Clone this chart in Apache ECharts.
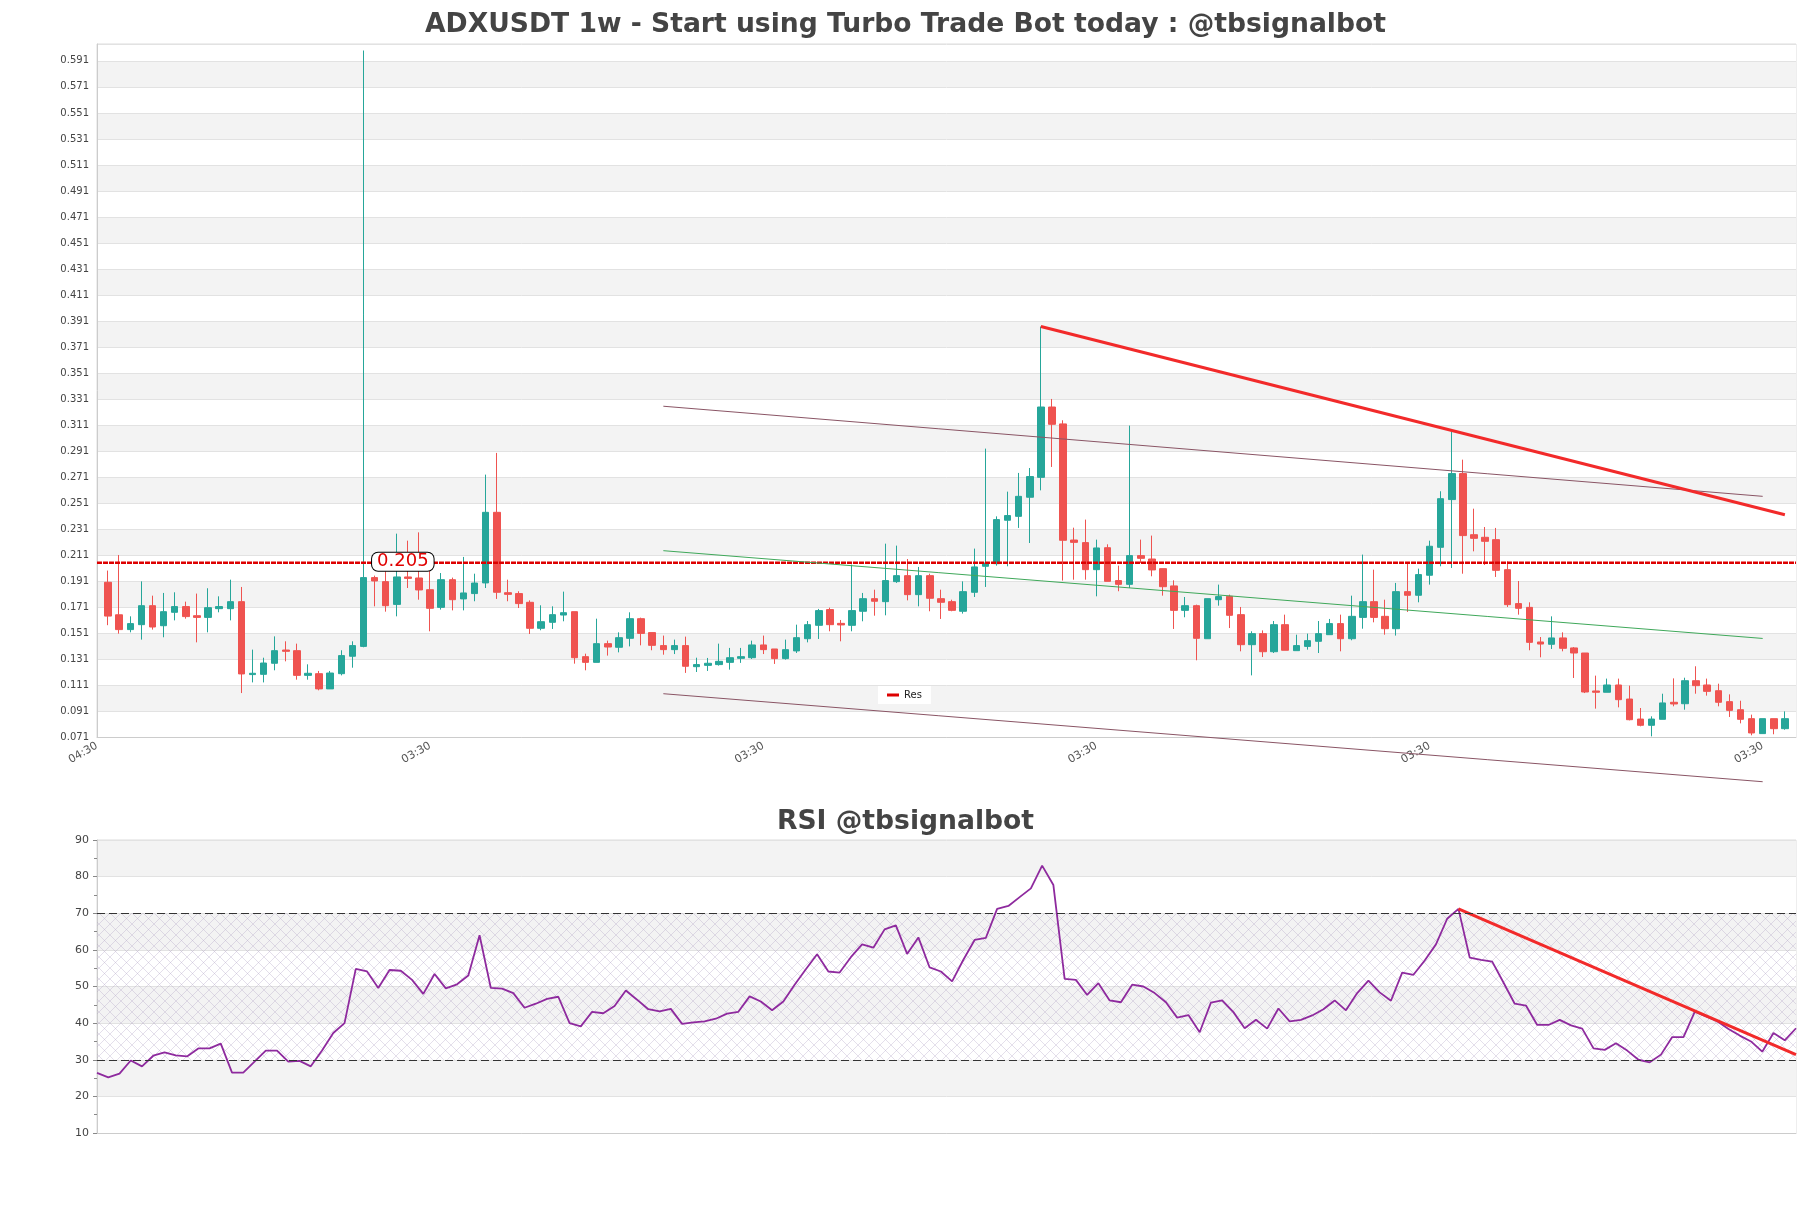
<!DOCTYPE html>
<html>
<head>
<meta charset="utf-8">
<script src="https://cdn.jsdelivr.net/npm/echarts@6/dist/echarts.min.js"></script>
<style>
html,body{margin:0;padding:0;background:#fff;}
#chart{width:1811px;height:1208px;}
</style>
</head>
<body>
<div id="chart"></div>
<script>
// ---- DATA ----
const opens = [0.190,0.165,0.1536,0.1574,0.172,0.1566,0.1669,0.1713,0.1643,0.163,
0.1697,0.1697,0.1751,0.119,0.1192,0.1277,0.1379,0.1374,0.1184,0.1197,
0.108,0.1197,0.1331,0.1407,0.1936,0.1905,0.173,0.1941,0.1933,0.1843,
0.1707,0.192,0.1772,0.1813,0.1895,0.2438,0.182,0.1813,0.1746,0.1546,
0.1592,0.1648,0.1674,0.1328,0.1284,0.1428,0.140,0.1469,0.162,0.1513,
0.1413,0.1382,0.1413,0.1251,0.1261,0.1267,0.1284,0.1315,0.132,0.1418,
0.1387,0.1313,0.1372,0.1466,0.1569,0.169,0.1584,0.1569,0.1677,0.1774,
0.1751,0.1905,0.1951,0.1805,0.1951,0.1774,0.1751,0.1677,0.1823,0.2023,
0.2043,0.2377,0.2407,0.2554,0.2707,0.3248,0.3118,0.2225,0.2205,0.1997,
0.2166,0.1913,0.1884,0.2105,0.2079,0.2005,0.1872,0.1684,0.172,0.1466,
0.1766,0.1792,0.1651,0.142,0.1505,0.1366,0.1574,0.1374,0.1407,0.1446,
0.1497,0.1582,0.1466,0.163,0.1751,0.1638,0.1543,0.1828,0.180,0.1954,
0.2169,0.2536,0.2736,0.2266,0.2246,0.2228,0.1997,0.1736,0.1707,0.1441,
0.1423,0.1472,0.1395,0.1356,0.1064,0.1054,0.111,0.1002,0.0848,0.080,
0.0846,0.0977,0.0966,0.1143,0.111,0.1066,0.0982,0.092,0.0851,0.0736,
0.0851,0.0774];
const closes = [0.164,0.1536,0.1582,0.172,0.1556,0.1674,0.1713,0.1636,0.163,0.1705,
0.1713,0.1751,0.1195,0.120,0.1279,0.1374,0.1369,0.1184,0.120,0.108,
0.1202,0.1336,0.1413,0.1936,0.191,0.172,0.1941,0.193,0.1841,0.170,
0.192,0.1766,0.1818,0.1894,0.2438,0.1823,0.1807,0.1736,0.1546,0.1597,
0.1651,0.1666,0.132,0.1284,0.1428,0.1402,0.1474,0.162,0.1507,0.1415,
0.1382,0.1413,0.1254,0.1267,0.1277,0.1292,0.132,0.1328,0.1418,0.1382,
0.1313,0.1382,0.1474,0.1574,0.1682,0.1574,0.1572,0.1682,0.1774,0.1754,
0.1913,0.1951,0.1805,0.1951,0.1777,0.1746,0.1684,0.1828,0.2018,0.2048,
0.2382,0.2413,0.2561,0.2713,0.3248,0.3115,0.2223,0.2207,0.1997,0.2164,
0.1907,0.1884,0.2105,0.2084,0.1995,0.1866,0.1684,0.172,0.1469,0.1774,
0.179,0.1646,0.142,0.1505,0.1366,0.1574,0.1377,0.1413,0.1451,0.1505,
0.1582,0.1466,0.1638,0.1751,0.163,0.1543,0.1828,0.180,0.1959,0.2177,
0.2543,0.2736,0.2259,0.2238,0.2215,0.1992,0.1728,0.170,0.1438,0.1425,
0.1472,0.1392,0.1356,0.1056,0.1054,0.111,0.0997,0.0843,0.080,0.0848,
0.0972,0.0964,0.1143,0.1105,0.1061,0.0977,0.0915,0.0846,0.0741,0.0851,
0.0774,0.0851];
const highs = [0.199,0.211,0.1638,0.1907,0.1797,0.1818,0.1823,0.1751,0.1813,0.1854,
0.1792,0.192,0.1864,0.1382,0.132,0.1484,0.1446,0.1428,0.1269,0.1218,
0.1218,0.1377,0.1446,0.599,0.1951,0.1984,0.2274,0.222,0.2284,0.2048,
0.1971,0.1936,0.2095,0.1966,0.2728,0.2895,0.192,0.1831,0.1761,0.1723,
0.1715,0.1828,0.1674,0.1351,0.162,0.1451,0.1515,0.1669,0.1628,0.1513,
0.149,0.1459,0.1482,0.132,0.1318,0.1428,0.1395,0.1395,0.1451,0.149,
0.1387,0.1459,0.1574,0.1602,0.1695,0.1705,0.161,0.2036,0.1818,0.1843,
0.2197,0.2182,0.2079,0.2018,0.1966,0.1843,0.1766,0.1907,0.2159,0.2928,
0.2407,0.2597,0.2741,0.2779,0.3867,0.331,0.3146,0.232,0.2382,0.2228,
0.2192,0.2028,0.3105,0.2228,0.2259,0.2005,0.1915,0.1787,0.1728,0.1774,
0.1882,0.1805,0.171,0.1523,0.153,0.1602,0.1651,0.1497,0.1505,0.1602,
0.1618,0.1651,0.1797,0.2113,0.1997,0.1766,0.1895,0.2048,0.2005,0.222,
0.260,0.3061,0.2843,0.2466,0.2325,0.2318,0.2061,0.191,0.1746,0.1479,
0.1638,0.1515,0.1402,0.1356,0.1182,0.1159,0.1159,0.1105,0.0933,0.0869,
0.1043,0.1161,0.1166,0.1254,0.1159,0.112,0.1038,0.0989,0.0882,0.0851,
0.0851,0.0907];
const lows = [0.157,0.1505,0.1515,0.1459,0.1536,0.1477,0.1607,0.162,0.1438,0.1515,
0.1669,0.1607,0.1048,0.113,0.113,0.1223,0.1292,0.1151,0.1151,0.1069,
0.1092,0.1184,0.1243,0.140,0.1715,0.1674,0.1638,0.1856,0.1766,0.1523,
0.169,0.1684,0.1684,0.1754,0.1856,0.1772,0.1754,0.1702,0.1502,0.1531,
0.1541,0.160,0.1274,0.1223,0.1284,0.1336,0.1361,0.1407,0.1415,0.1377,
0.1343,0.1348,0.1203,0.121,0.1218,0.1259,0.1228,0.128,0.131,0.1348,
0.1272,0.1305,0.1356,0.1438,0.1464,0.1523,0.1446,0.1523,0.160,0.1643,
0.1646,0.1895,0.1761,0.1715,0.1677,0.1618,0.1677,0.1659,0.1787,0.1864,
0.2028,0.2023,0.2318,0.2202,0.2607,0.2787,0.1913,0.192,0.192,0.1792,
0.1907,0.1831,0.1856,0.2048,0.1946,0.1797,0.1541,0.1631,0.130,0.1466,
0.172,0.1548,0.1369,0.1184,0.1325,0.1356,0.1377,0.1374,0.1382,0.1356,
0.1497,0.1369,0.1454,0.1543,0.1592,0.1497,0.149,0.1672,0.1746,0.1882,
0.2023,0.201,0.1966,0.2138,0.2033,0.1941,0.171,0.1651,0.1377,0.1323,
0.1387,0.1369,0.1164,0.1048,0.0928,0.1054,0.0938,0.0838,0.0792,0.0715,
0.0846,0.0946,0.092,0.1043,0.1028,0.0946,0.0864,0.0815,0.0723,0.0736,
0.0731,0.0766];
const rsi = [26.4,25.2,26.2,29.8,28.2,31.1,32.0,31.2,30.9,33.1,
33.1,34.4,26.5,26.5,29.5,32.5,32.5,29.5,29.7,28.2,
32.5,37.3,40.0,54.8,54.1,49.6,54.5,54.3,51.8,48.0,
53.4,49.5,50.6,53.0,64.0,49.6,49.4,48.2,44.2,45.3,
46.6,47.2,40.0,39.1,43.1,42.7,44.7,48.9,46.4,43.8,
43.2,43.9,39.8,40.2,40.5,41.2,42.6,43.1,47.3,45.9,
43.5,45.9,50.5,54.7,58.8,54.1,53.8,58.0,61.5,60.6,
65.6,66.7,58.9,63.4,55.2,54.1,51.4,57.3,62.7,63.3,
71.2,72.0,74.4,76.8,83.0,77.7,52.1,51.8,47.7,50.9,
46.2,45.7,50.5,50.0,48.2,45.7,41.5,42.2,37.5,45.6,
46.2,43.0,38.6,40.9,38.5,44.0,40.5,40.9,42.1,43.8,
46.2,43.5,48.2,51.6,48.4,46.1,53.8,53.2,57.1,61.5,
68.5,71.2,57.9,57.3,56.8,51.1,45.3,44.8,39.5,39.5,
40.9,39.4,38.5,33.1,32.7,34.5,32.5,30.0,29.3,31.4,
36.2,36.2,43.1,41.8,40.5,38.4,36.6,35.0,32.2,37.3,
35.3,38.6];
const xTickLabels = ['04:30','03:30','03:30','03:30','03:30','03:30'];
const resLevel = 0.205;
// trend / channel lines: [dataIndex, price]
const upperChannel = [[50, 0.3254],[149, 0.2561]];
const midChannel = [[50, 0.2143],[149, 0.1468]];
const lowerChannel = [[50, 0.1043],[149, 0.0366]];
const resTrend = [[84, 0.3867],[151, 0.2419]];
const rsiTrend = [[121, 71.2],[151, 31.4]];
const rsiLevels = [70, 30];

// ---- BUILD ----
const N = opens.length;
const cats = [];
for (let i = 0; i < N + 2; i++) cats.push(String(i));
const candle = [['-','-','-','-']];
for (let i = 0; i < N; i++) candle.push([opens[i], closes[i], lows[i], highs[i]]);
candle.push(['-','-','-','-']);
const shift = a => a.map(p => [p[0] + 1, p[1]]);
const rsiCats = rsi.map((v, i) => String(i));

const pc = document.createElement('canvas');
pc.width = 11; pc.height = 11;
const g = pc.getContext('2d');
g.strokeStyle = 'rgba(175,160,195,0.42)';
g.lineWidth = 0.8;
g.beginPath();
g.moveTo(0,0); g.lineTo(11,11);
g.moveTo(11,0); g.lineTo(0,11);
g.stroke();

const FF = 'DejaVu Sans';
const chart = echarts.init(document.getElementById('chart'), null, {renderer:'canvas'});
chart.setOption({
  animation: false,
  backgroundColor: '#fff',
  textStyle: {fontFamily: FF},
  title: [
    {text: 'ADXUSDT 1w - Start using Turbo Trade Bot today : @tbsignalbot', left: 'center', top: 7,
     textStyle: {fontFamily: FF, fontWeight: 'bold', fontSize: 26.6, color: '#444'}},
    {text: 'RSI @tbsignalbot', left: 'center', top: 804,
     textStyle: {fontFamily: FF, fontWeight: 'bold', fontSize: 26.6, color: '#444'}}
  ],
  legend: {
    data: ['Res'], left: 878, top: 686, backgroundColor: '#fff', padding: [4, 9],
    icon: 'rect', itemWidth: 12, itemHeight: 3, itemGap: 6,
    textStyle: {fontFamily: FF, fontSize: 10, color: '#222'}
  },
  grid: [
    {left: 97, right: 15, top: 44, height: 693, show: true, borderColor: '#ddd', borderWidth: 1},
    {left: 97, right: 15, top: 840, height: 293, show: true, borderColor: '#ddd', borderWidth: 1}
  ],
  xAxis: [
    {type: 'category', gridIndex: 0, data: cats, boundaryGap: false,
     axisLine: {lineStyle: {color: '#ccc'}}, axisTick: {show: false}, splitLine: {show: false},
     axisLabel: {interval: 29, rotate: 30, fontSize: 11, color: '#555', fontFamily: FF,
       formatter: (v, idx) => (idx % 30 === 0 ? xTickLabels[idx / 30] : '')}},
    {type: 'category', gridIndex: 1, data: rsiCats, boundaryGap: false,
     axisLine: {lineStyle: {color: '#ccc'}}, axisTick: {show: false}, axisLabel: {show: false}, splitLine: {show: false}}
  ],
  yAxis: [
    {type: 'value', gridIndex: 0, min: 0.071, max: 0.604, interval: 0.02,
     axisLine: {show: true, lineStyle: {color: '#ccc'}}, axisTick: {show: false},
     axisLabel: {formatter: v => v.toFixed(3), showMaxLabel: false, fontSize: 10, color: '#444', fontFamily: FF},
     splitLine: {lineStyle: {color: '#e2e2e2'}},
     splitArea: {show: true, areaStyle: {color: ['#ffffff', '#f3f3f3']}}},
    {type: 'value', gridIndex: 1, min: 10, max: 90, interval: 10,
     axisLine: {show: true, lineStyle: {color: '#ccc'}},
     axisTick: {show: true, length: 4, lineStyle: {color: '#888'}},
     minorTick: {show: true, splitNumber: 2, length: 3, lineStyle: {color: '#888'}},
     axisLabel: {fontSize: 11, color: '#444', fontFamily: FF},
     splitLine: {lineStyle: {color: '#e2e2e2'}},
     splitArea: {show: true, areaStyle: {color: ['#ffffff', '#f3f3f3']}}}
  ],
  series: [
    {name: 'ADXUSDT', type: 'candlestick', xAxisIndex: 0, yAxisIndex: 0, data: candle, barWidth: 7,
     itemStyle: {color: '#26a69a', color0: '#ef5350', borderColor: '#26a69a', borderColor0: '#ef5350', borderWidth: 1}},
    {name: 'Res', type: 'line', xAxisIndex: 0, yAxisIndex: 0, symbol: 'none', silent: true,
     data: [[0, resLevel], [N + 1, resLevel]], color: '#dd0000',
     lineStyle: {color: '#dd0000', width: 2.5, type: [5, 1]},
     markPoint: {symbol: 'circle', symbolSize: 1, itemStyle: {color: 'rgba(0,0,0,0)'},
       data: [{coord: [27, resLevel]}],
       label: {show: true, position: 'inside', offset: [6, -1], formatter: resLevel.toFixed(3), color: '#e00000', fontSize: 18,
         fontFamily: FF, backgroundColor: '#fff', borderColor: '#000', borderWidth: 1, borderRadius: 6, padding: [0, 5]}}},
    {name: 'upper', type: 'line', xAxisIndex: 0, yAxisIndex: 0, symbol: 'none', silent: true, clip: false,
     data: shift(upperChannel), lineStyle: {color: '#8a5565', width: 1}},
    {name: 'mid', type: 'line', xAxisIndex: 0, yAxisIndex: 0, symbol: 'none', silent: true, clip: false,
     data: shift(midChannel), lineStyle: {color: '#3fa85a', width: 1}},
    {name: 'lower', type: 'line', xAxisIndex: 0, yAxisIndex: 0, symbol: 'none', silent: true, clip: false,
     data: shift(lowerChannel), lineStyle: {color: '#8a5565', width: 1}},
    {name: 'resTrend', type: 'line', xAxisIndex: 0, yAxisIndex: 0, symbol: 'none', silent: true, clip: false,
     data: shift(resTrend), lineStyle: {color: '#f22a2a', width: 3}},
    {name: 'RSI', type: 'line', xAxisIndex: 1, yAxisIndex: 1, symbol: 'none', silent: true, data: rsi,
     lineStyle: {color: '#8e2a9e', width: 1.8},
     markLine: {symbol: 'none', silent: true, label: {show: false},
       lineStyle: {color: '#333', type: [8, 4], width: 1.2},
       data: rsiLevels.map(v => ({yAxis: v}))},
     markArea: {silent: true, itemStyle: {color: {image: pc, repeat: 'repeat'}},
       data: [[{yAxis: rsiLevels[1]}, {yAxis: rsiLevels[0]}]]}},
    {name: 'rsiTrend', type: 'line', xAxisIndex: 1, yAxisIndex: 1, symbol: 'none', silent: true,
     data: rsiTrend, lineStyle: {color: '#f22a2a', width: 3}}
  ]
});
</script>
</body>
</html>
